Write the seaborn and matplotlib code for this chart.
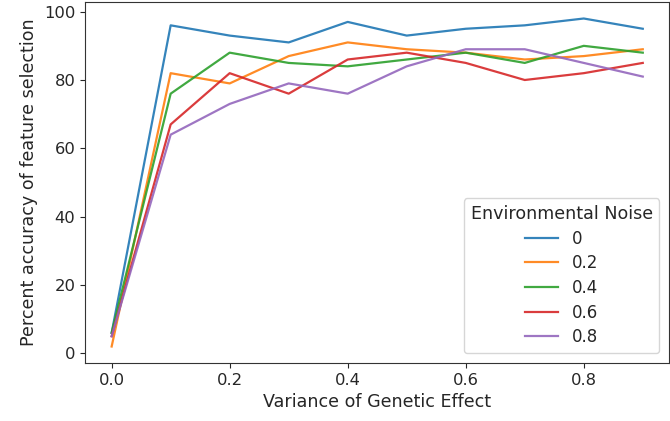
import matplotlib
matplotlib.use("Agg")
import matplotlib.pyplot as plt
import seaborn as sns
import pandas as pd

variance = [0.0, 0.1, 0.2, 0.3, 0.4, 0.5, 0.6, 0.7, 0.8, 0.9]
noise_labels = ["0", "0.2", "0.4", "0.6", "0.8"]
acc_0 = [6, 96, 93, 91, 97, 93, 95, 96, 98, 95]
acc_02 = [2, 82, 79, 87, 91, 89, 88, 86, 87, 89]
acc_04 = [6, 76, 88, 85, 84, 86, 88, 85, 90, 88]
acc_06 = [5, 67, 82, 76, 86, 88, 85, 80, 82, 85]
acc_08 = [5, 64, 73, 79, 76, 84, 89, 89, 85, 81]

series = [acc_0, acc_02, acc_04, acc_06, acc_08]
rows = []
for lab, vals in zip(noise_labels, series):
    for x, y in zip(variance, vals):
        rows.append({"Variance of Genetic Effect": x,
                     "Percent accuracy of feature selection": y,
                     "Environmental Noise": lab})
df = pd.DataFrame(rows)

txt = "#262626"
plt.rcParams.update({
    "text.color": txt, "axes.labelcolor": txt,
    "xtick.color": txt, "ytick.color": txt,
    "axes.edgecolor": "#333333",
})

fig, ax = plt.subplots(figsize=(6.7, 4.21), dpi=100)
fig.subplots_adjust(left=0.127, right=0.999, top=0.995, bottom=0.138)
sns.lineplot(data=df, x="Variance of Genetic Effect",
             y="Percent accuracy of feature selection",
             hue="Environmental Noise", hue_order=noise_labels,
             palette="tab10", linewidth=1.6, alpha=0.9, ax=ax)
ax.set_yticks([0, 20, 40, 60, 80, 100])
ax.set_xticks([0.0, 0.2, 0.4, 0.6, 0.8])
ax.tick_params(labelsize=11.8)
ax.set_xlabel("Variance of Genetic Effect", fontsize=12.6)
ax.set_ylabel("Percent accuracy of feature selection", fontsize=12.6)
leg = ax.legend(title="Environmental Noise", loc="lower right",
                fontsize=12, title_fontsize=12.6, labelspacing=0.4,
                borderaxespad=0.6)
fig.savefig("out.png", dpi=100)
